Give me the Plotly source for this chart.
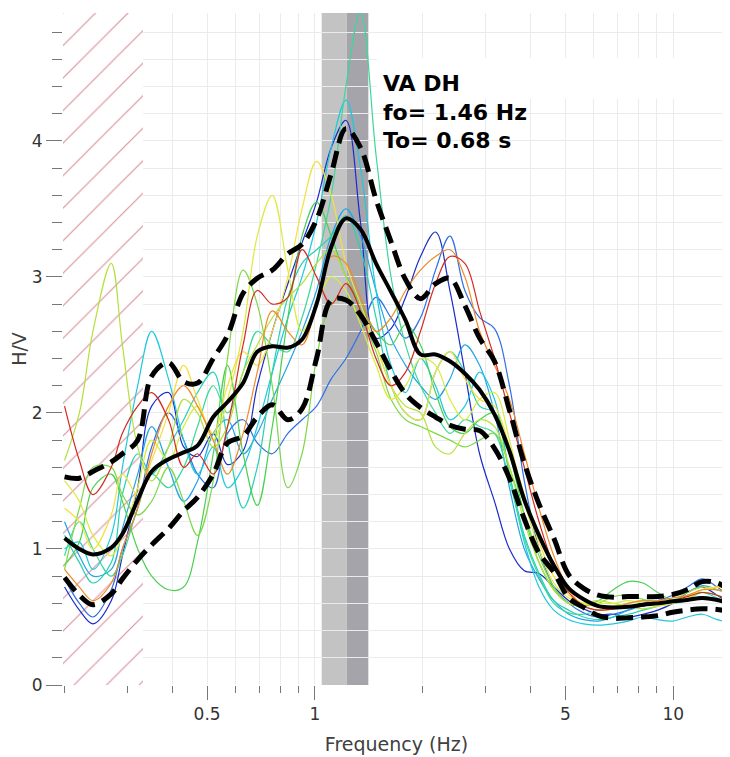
import math
import plotly.graph_objects as go

# ---------------- data ----------------
FREQ = [0.20, 0.22, 0.24, 0.27, 0.29, 0.32, 0.35, 0.39, 0.43, 0.47, 0.52, 0.57,
        0.63, 0.69, 0.76, 0.84, 0.92, 1.01, 1.11, 1.22, 1.34, 1.48, 1.63, 1.79,
        1.97, 2.17, 2.38, 2.62, 2.88, 3.17, 3.49, 3.84, 4.22, 4.64, 5.11, 5.62,
        6.18, 6.80, 7.48, 8.23, 9.05, 9.96, 10.95, 12.05, 13.25, 14.4]

HV_MEAN = [1.08, 1.00, 0.96, 1.01, 1.11, 1.36, 1.57, 1.66, 1.71, 1.76, 1.97, 2.08,
           2.22, 2.45, 2.49, 2.48, 2.54, 2.80, 3.22, 3.43, 3.35, 3.10, 2.89, 2.68,
           2.43, 2.43, 2.38, 2.29, 2.17, 1.99, 1.72, 1.36, 1.10, 0.88, 0.71, 0.63,
           0.58, 0.57, 0.575, 0.59, 0.60, 0.615, 0.625, 0.64, 0.625, 0.60]

HV_UPPER = [1.53, 1.52, 1.57, 1.64, 1.70, 1.80, 2.27, 2.37, 2.23, 2.22, 2.40, 2.57,
            2.88, 2.99, 3.05, 3.17, 3.24, 3.42, 3.76, 4.09, 3.95, 3.57, 3.26, 2.98,
            2.84, 2.95, 2.99, 2.79, 2.55, 2.38, 2.02, 1.63, 1.33, 1.08, 0.81, 0.71,
            0.66, 0.645, 0.65, 0.65, 0.65, 0.665, 0.70, 0.76, 0.75, 0.70]

HV_LOWER = [0.79, 0.66, 0.59, 0.67, 0.78, 0.92, 1.03, 1.15, 1.28, 1.38, 1.55, 1.78,
            1.83, 1.97, 2.06, 1.95, 2.03, 2.40, 2.83, 2.83, 2.72, 2.52, 2.31, 2.14,
            2.04, 1.97, 1.91, 1.88, 1.87, 1.74, 1.52, 1.22, 0.97, 0.83, 0.64, 0.57,
            0.51, 0.49, 0.495, 0.50, 0.51, 0.535, 0.55, 0.56, 0.555, 0.54]

HV_01 = [0.72, 0.55, 0.45, 0.62, 0.95, 1.45, 2.05, 2.15, 1.75, 1.68, 1.85, 1.62,
         1.72, 2.20, 2.60, 2.95, 3.25, 3.55, 3.95, 4.15, 3.40, 2.55, 2.62, 2.85,
         3.15, 3.33, 2.90, 2.30, 1.70, 1.35, 1.00, 0.84, 0.82, 0.72, 0.62, 0.56,
         0.52, 0.52, 0.50, 0.52, 0.55, 0.60, 0.68, 0.72, 0.66, 0.60]
HV_02 = [0.78, 0.60, 0.50, 0.70, 1.00, 1.30, 1.75, 2.00, 1.80, 1.55, 1.45, 1.85,
         1.95, 1.78, 1.70, 1.85, 1.95, 2.05, 2.25, 2.40, 2.60, 2.85, 2.70, 2.55,
         2.70, 3.05, 3.30, 2.90, 2.70, 2.62, 2.20, 1.50, 1.00, 0.72, 0.60, 0.53,
         0.50, 0.52, 0.55, 0.60, 0.62, 0.66, 0.72, 0.78, 0.72, 0.65]
HV_03 = [1.20, 0.95, 0.80, 0.85, 1.15, 1.55, 1.90, 1.60, 1.35, 1.50, 1.85, 1.95,
         1.70, 1.85, 2.10, 2.35, 2.60, 2.90, 3.30, 3.50, 3.30, 2.90, 2.55, 2.35,
         2.20, 2.10, 2.25, 2.50, 2.35, 2.00, 1.45, 1.00, 0.78, 0.62, 0.52, 0.48,
         0.47, 0.50, 0.55, 0.58, 0.60, 0.62, 0.68, 0.73, 0.70, 0.66]
HV_04 = [1.00, 1.05, 0.85, 1.10, 1.60, 2.20, 2.60, 2.25, 1.80, 1.55, 1.75, 1.45,
         1.60, 1.90, 2.30, 2.70, 3.00, 3.40, 3.95, 4.30, 3.80, 2.90, 2.35, 2.15,
         2.40, 2.20, 1.95, 2.05, 2.30, 2.10, 1.55, 1.05, 0.72, 0.55, 0.48, 0.45,
         0.44, 0.45, 0.47, 0.50, 0.48, 0.47, 0.50, 0.52, 0.48, 0.46]
HV_05 = [1.10, 0.90, 0.75, 0.90, 1.40, 1.70, 1.55, 1.75, 1.95, 2.15, 2.30, 1.80,
         1.30, 1.60, 2.30, 2.85, 3.10, 3.20, 3.30, 3.45, 3.20, 2.70, 2.20, 2.00,
         1.95, 2.30, 2.45, 2.30, 2.05, 2.00, 1.55, 1.10, 0.82, 0.62, 0.55, 0.50,
         0.48, 0.50, 0.52, 0.55, 0.58, 0.62, 0.66, 0.68, 0.64, 0.60]
HV_06 = [0.95, 1.20, 1.00, 0.80, 0.95, 1.30, 1.55, 1.45, 1.60, 1.90, 2.20, 2.00,
         2.30, 2.60, 2.50, 2.45, 2.70, 3.10, 3.60, 4.40, 4.95, 3.90, 3.00, 2.50,
         2.20, 2.00, 1.85, 1.95, 1.90, 1.85, 1.50, 1.08, 0.80, 0.60, 0.53, 0.52,
         0.55, 0.58, 0.60, 0.62, 0.60, 0.60, 0.62, 0.65, 0.62, 0.58]
HV_07 = [0.88, 1.05, 1.45, 1.55, 1.35, 1.00, 0.80, 0.70, 0.72, 1.05, 1.70, 2.35,
         1.70, 1.32, 1.90, 2.70, 3.30, 3.55, 3.30, 3.00, 2.80, 2.60, 2.50, 2.65,
         2.50, 2.15, 1.90, 1.85, 1.95, 2.00, 1.70, 1.25, 0.90, 0.70, 0.60, 0.58,
         0.62, 0.70, 0.76, 0.75, 0.68, 0.62, 0.62, 0.65, 0.63, 0.60]
HV_08 = [0.85, 1.30, 1.60, 1.60, 1.40, 1.25, 1.35, 1.60, 1.35, 1.10, 1.50, 2.40,
         3.05, 2.80, 2.20, 1.45, 1.70, 2.40, 2.80, 2.85, 2.70, 2.45, 2.10, 1.95,
         1.90, 1.85, 1.80, 1.75, 1.80, 1.85, 1.60, 1.25, 0.95, 0.72, 0.60, 0.58,
         0.60, 0.65, 0.66, 0.63, 0.60, 0.60, 0.63, 0.68, 0.66, 0.62]
HV_09 = [1.65, 2.00, 2.60, 3.10, 2.50, 1.75, 1.50, 1.75, 2.10, 2.00, 1.75, 1.90,
         2.30, 2.50, 2.70, 2.85, 2.95, 3.10, 3.20, 3.00, 2.75, 2.50, 2.20, 2.05,
         2.00, 1.75, 1.70, 1.85, 1.95, 1.90, 1.60, 1.20, 0.90, 0.70, 0.60, 0.60,
         0.62, 0.60, 0.58, 0.56, 0.58, 0.62, 0.68, 0.72, 0.70, 0.66]
HV_10 = [1.50, 1.35, 1.10, 0.95, 1.10, 1.45, 1.80, 1.65, 1.90, 2.05, 1.80, 2.10,
         2.60, 3.30, 3.60, 3.05, 2.60, 2.80, 3.00, 2.90, 2.65, 2.35, 2.10, 2.20,
         2.40, 2.35, 2.10, 1.95, 2.10, 2.15, 1.80, 1.35, 1.00, 0.75, 0.64, 0.60,
         0.60, 0.60, 0.62, 0.60, 0.58, 0.60, 0.64, 0.70, 0.72, 0.70]
HV_11 = [1.30, 1.20, 1.00, 1.25, 1.55, 1.40, 1.65, 2.00, 2.35, 2.10, 1.85, 2.20,
         2.45, 2.35, 2.60, 3.00, 3.50, 3.85, 3.60, 3.10, 2.80, 2.50, 2.20, 2.00,
         1.95, 2.30, 2.45, 2.25, 2.10, 2.05, 1.75, 1.40, 1.05, 0.80, 0.66, 0.60,
         0.58, 0.58, 0.60, 0.62, 0.62, 0.62, 0.65, 0.70, 0.72, 0.72]
HV_12 = [0.85, 0.72, 0.62, 0.75, 1.00, 1.30, 1.70, 2.05, 2.20, 2.05, 1.80, 1.55,
         1.85, 2.30, 2.75, 2.60, 2.50, 2.80, 3.15, 3.10, 2.85, 2.60, 2.70, 2.90,
         3.05, 3.15, 3.20, 3.00, 2.60, 2.35, 2.10, 1.70, 1.30, 0.95, 0.70, 0.58,
         0.55, 0.56, 0.60, 0.62, 0.62, 0.64, 0.66, 0.70, 0.70, 0.68]
HV_13 = [2.05, 1.65, 1.40, 1.60, 1.85, 2.05, 2.15, 1.95, 1.60, 1.70, 1.55, 1.90,
         2.50, 2.90, 2.80, 2.85, 3.20, 3.00, 2.80, 2.95, 2.75, 2.40, 2.20, 2.30,
         2.60, 2.95, 3.15, 3.10, 2.75, 2.40, 2.00, 1.60, 1.20, 0.88, 0.68, 0.58,
         0.55, 0.56, 0.57, 0.58, 0.60, 0.62, 0.65, 0.68, 0.66, 0.62]

WINDOW_CURVES = [HV_01, HV_02, HV_03, HV_04, HV_05, HV_06, HV_07,
                 HV_08, HV_09, HV_10, HV_11, HV_12, HV_13]
CURVE_COLORS = ["#1a2bc8", "#2f6fe6", "#22a4e6", "#20c8dc", "#28d0b4", "#3cd89a",
                "#48d050", "#7cd848", "#b4e03c", "#dcea3c", "#f2e040", "#f08a28",
                "#d42a1e"]

# frequency limits
F_MIN_RELIABLE = 0.331          # hatched (unreliable) region upper limit
FO_BAND_LIGHT = [1.044, 1.226]  # light grey band
FO_BAND_DARK = [1.226, 1.409]   # dark grey band
F_AXIS = [0.198, 14.4]
HV_AXIS = [0, 4.94]

LABEL_TEXT = "<b>VA DH<br>fo= 1.46 Hz<br>To= 0.68 s</b>"

X_MAJOR = [0.5, 1, 5, 10]
X_MINOR = [0.2, 0.3, 0.4, 0.6, 0.7, 0.8, 0.9, 2, 3, 4, 6, 7, 8, 9]

# ---------------- figure ----------------
fig = go.Figure()

# hatched low-frequency region
fig.add_trace(go.Scatter(
    x=[F_AXIS[0], F_MIN_RELIABLE, F_MIN_RELIABLE, F_AXIS[0], F_AXIS[0]],
    y=[HV_AXIS[0], HV_AXIS[0], HV_AXIS[1], HV_AXIS[1], HV_AXIS[0]],
    mode="none", fill="toself", fillcolor="white",
    fillpattern=dict(shape="/", size=23, solidity=0.05,
                     fgcolor="#d8929c", bgcolor="white", fillmode="replace"),
    hoverinfo="skip", showlegend=False))

for hv, col in zip(WINDOW_CURVES, CURVE_COLORS):
    fig.add_trace(go.Scatter(x=FREQ, y=hv, mode="lines",
                             line=dict(color=col, width=1.2, shape="spline"),
                             showlegend=False))

for hv in (HV_UPPER, HV_LOWER):
    fig.add_trace(go.Scatter(x=FREQ, y=hv, mode="lines",
                             line=dict(color="black", width=5, dash="17px,8px",
                                       shape="spline"),
                             showlegend=False))
fig.add_trace(go.Scatter(x=FREQ, y=HV_MEAN, mode="lines",
                         line=dict(color="black", width=4, shape="spline"),
                         showlegend=False))

# f0 bands
fig.add_shape(type="rect", xref="x", yref="paper", layer="between",
              x0=FO_BAND_LIGHT[0], x1=FO_BAND_LIGHT[1], y0=0, y1=1,
              fillcolor="#c3c3c3", line_width=0)
fig.add_shape(type="rect", xref="x", yref="paper", layer="between",
              x0=FO_BAND_DARK[0], x1=FO_BAND_DARK[1], y0=0, y1=1,
              fillcolor="#a4a4aa", line_width=0)
# white strip behind label title
fig.add_shape(type="rect", xref="x", yref="y", layer="between",
              x0=1.49, x1=F_AXIS[1], y0=4.31, y1=4.61,
              fillcolor="white", line_width=0)

fig.add_annotation(text=LABEL_TEXT, xref="paper", yref="paper",
                   x=0.4768, y=0.916, xanchor="left", yanchor="top",
                   align="left", showarrow=False,
                   font=dict(family="DejaVu Sans", size=22, color="black"))

grid = "#ebebeb"
fig.update_xaxes(type="log", range=[math.log10(F_AXIS[0]), math.log10(F_AXIS[1])],
                 tickmode="array", tickvals=X_MAJOR,
                 ticktext=[str(v) for v in X_MAJOR],
                 ticks="outside", ticklen=14, tickcolor="#777", tickwidth=1,
                 showgrid=True, gridcolor=grid, gridwidth=1,
                 minor=dict(tickmode="array", tickvals=X_MINOR, ticks="outside",
                            ticklen=7, tickcolor="#777", showgrid=True,
                            gridcolor=grid, gridwidth=1),
                 showline=False, zeroline=False,
                 title=dict(text="Frequency (Hz)", standoff=14,
                            font=dict(size=19, color="#404040")),
                 tickfont=dict(size=17, color="#333"))
fig.update_yaxes(range=HV_AXIS, tickmode="array", tickvals=[0, 1, 2, 3, 4],
                 ticks="outside", ticklen=16, tickcolor="#777", tickwidth=1,
                 showgrid=True, gridcolor=grid, gridwidth=1,
                 minor=dict(dtick=0.2, ticks="outside", ticklen=10,
                            tickcolor="#777", showgrid=True, gridcolor=grid),
                 showline=False, zeroline=False,
                 title=dict(text="H/V", standoff=0,
                            font=dict(size=19, color="#404040")),
                 tickfont=dict(size=17, color="#333"))

# page body has an 8 px margin, so the figure is sized to end at the window edge
fig.update_layout(width=722, height=749,
                  margin=dict(l=55, r=0, t=5, b=72, autoexpand=False),
                  paper_bgcolor="white", plot_bgcolor="white",
                  font=dict(family="DejaVu Sans", size=17, color="#333"),
                  showlegend=False)

fig.write_html("out.html")
